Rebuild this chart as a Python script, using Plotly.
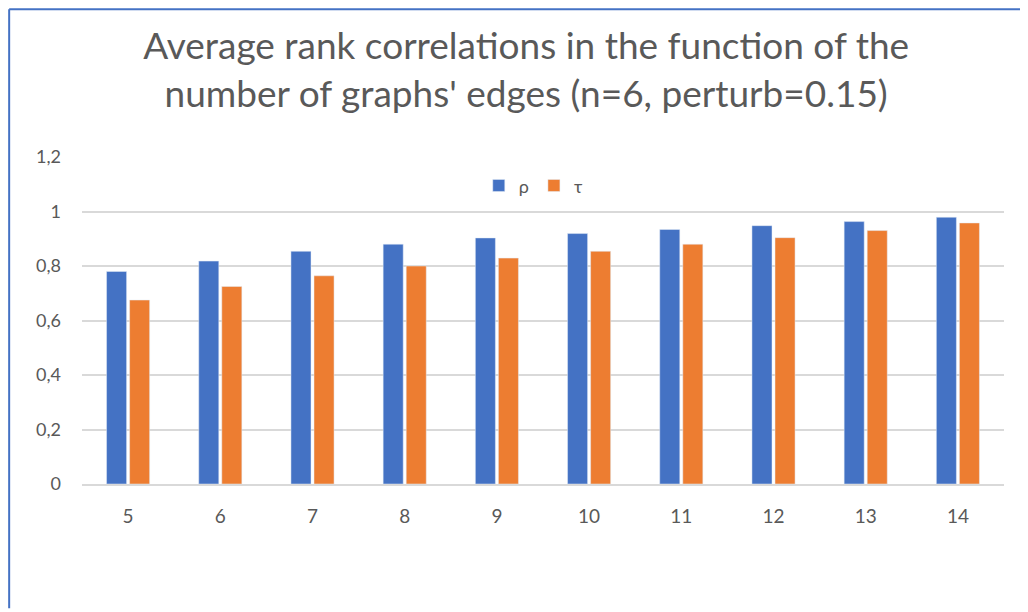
import plotly.graph_objects as go

# Number of edges
edges = ["5", "6", "7", "8", "9", "10", "11", "12", "13", "14"]
rho = [0.78, 0.818, 0.854, 0.880, 0.903, 0.919, 0.934, 0.948, 0.963, 0.979]
tau = [0.675, 0.725, 0.764, 0.800, 0.829, 0.854, 0.880, 0.904, 0.930, 0.958]

y_ticks = [0, 0.2, 0.4, 0.6, 0.8, 1, 1.2]
y_ticktext = ["0", "0,2", "0,4", "0,6", "0,8", "1", "1,2"]

font_family = "Lato, 'Open Sans', sans-serif"
text_color = "#595959"

fig = go.Figure().add_trace(
    go.Bar(
        x = edges,
        y = rho,
        name = "ρ",
        marker_color = "#4472C4",
    )
).add_trace(
    go.Bar(
        x = edges,
        y = tau,
        name = "τ",
        marker_color = "#ED7D31",
    )
).update_layout(
    width = 1020,
    height = 604,
    paper_bgcolor = "white",
    plot_bgcolor = "white",
    barmode = "group",
    bargap = 0.5,
    bargroupgap = 0.13,
    font = {"family": font_family, "color": text_color, "size": 18},
    title = {
        "text": "Average rank correlations in the function of the<br>number of graphs' edges (n=6, perturb=0.15)",
        "x": 0.508,
        "xanchor": "center",
        "y": 0.915,
        "yanchor": "middle",
        "font": {"size": 37, "color": text_color, "family": font_family},
    },
    margin = {
        "l": 74,
        "r": 24,
        "t": 149,
        "b": 128,
        "pad": 0
    },
    xaxis = {
        "showgrid": False,
        "showline": True,
        "linecolor": "#D9D9D9",
        "linewidth": 2,
        "ticks": "",
        "ticklabelstandoff": 14,
        "tickfont": {"size": 19},
    },
    yaxis = {
        "range": [0, 1.2],
        "tickvals": y_ticks,
        "ticktext": y_ticktext,
        "showgrid": True,
        "gridcolor": "#D9D9D9",
        "gridwidth": 2,
        "zeroline": False,
        "ticklabelstandoff": 20,
        "tickfont": {"size": 18},
    },
    legend = {
        "orientation": "h",
        "x": 0.49,
        "xanchor": "center",
        "y": 0.912,
        "yanchor": "middle",
        "font": {"size": 18},
        "itemwidth": 30,
        "traceorder": "normal",
    },
    shapes = [
        {"type": "line", "xref": "paper", "yref": "paper", "x0": -0.079, "x1": -0.079,
         "y0": -0.38, "y1": 1.452, "line": {"color": "#4472C4", "width": 2}},
        {"type": "line", "xref": "paper", "yref": "paper", "x0": -0.079, "x1": 1.03,
         "y0": 1.452, "y1": 1.452, "line": {"color": "#4472C4", "width": 2}},
    ],
)

fig.write_html("out.html")
